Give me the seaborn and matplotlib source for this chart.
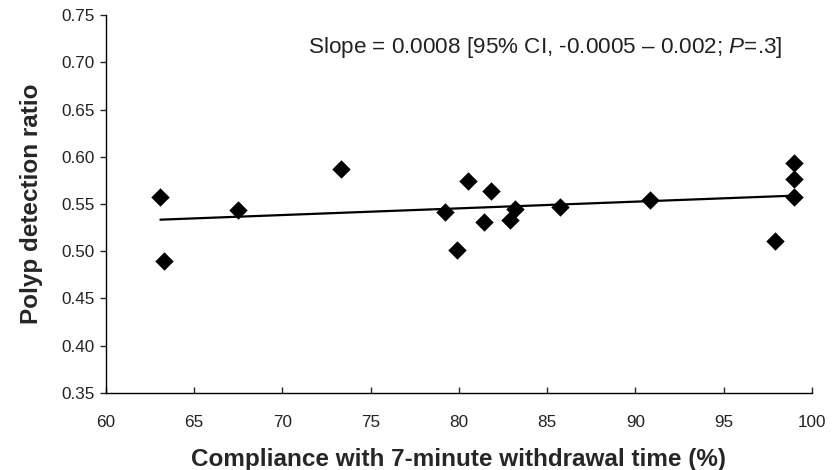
import pandas as pd
import matplotlib
matplotlib.use('Agg')
import matplotlib.pyplot as plt
import seaborn as sns

# values
compliance = [63.1, 63.3, 67.5, 73.3, 79.2, 79.9, 80.5, 81.4, 81.8,
              82.9, 83.2, 85.7, 90.8, 97.9, 99.0, 99.0, 99.0]
detection_ratio = [0.557, 0.490, 0.544, 0.587, 0.541, 0.501, 0.574, 0.531, 0.564,
                   0.533, 0.545, 0.547, 0.554, 0.511, 0.593, 0.576, 0.557]
x_ticks = [60, 65, 70, 75, 80, 85, 90, 95, 100]
y_ticks = [0.35, 0.40, 0.45, 0.50, 0.55, 0.60, 0.65, 0.70, 0.75]

df = pd.DataFrame({'compliance': compliance, 'pdr': detection_ratio})

sns.set_style('ticks')
plt.rcParams['font.family'] = ['Liberation Sans', 'DejaVu Sans']
plt.rcParams['mathtext.fontset'] = 'custom'
plt.rcParams['mathtext.rm'] = 'Liberation Sans'
plt.rcParams['mathtext.it'] = 'Liberation Sans:italic'

fig = plt.figure(figsize=(8.32, 4.70), dpi=100)
ax = fig.add_axes([0.127, 0.164, 0.849, 0.804])

sns.regplot(data=df, x='compliance', y='pdr', ax=ax, ci=None, color='black',
            marker='D', scatter_kws={'s': 88, 'linewidths': 0, 'alpha': 1},
            line_kws={'linewidth': 1.6})

ax.set_xlim(60, 100)
ax.set_ylim(0.35, 0.75)
ax.set_xticks(x_ticks)
ax.set_yticks(y_ticks)
ax.set_yticklabels([f'{v:.2f}' for v in y_ticks])
ax.tick_params(axis='x', direction='in', length=4, width=1, labelsize=12.3,
               labelcolor='#222222', pad=16)
ax.tick_params(axis='y', direction='out', length=4, width=1, labelsize=12.3,
               labelcolor='#222222', pad=4)
sns.despine(ax=ax)
for s in ['left', 'bottom']:
    ax.spines[s].set_linewidth(1)
    ax.spines[s].set_color('black')

ax.set_xlabel('Compliance with 7-minute withdrawal time (%)', fontsize=17.5,
              fontweight='bold', labelpad=13)
ax.set_ylabel('Polyp detection ratio', fontsize=17.5, fontweight='bold', labelpad=13)

ax.text(0.2865, 0.915, r'Slope = 0.0008 [95% CI, -0.0005 – 0.002; $\mathit{P}$=.3]',
        transform=ax.transAxes, fontsize=16.2, va='center', ha='left', color='#222222')

fig.savefig('out.png', dpi=100)
